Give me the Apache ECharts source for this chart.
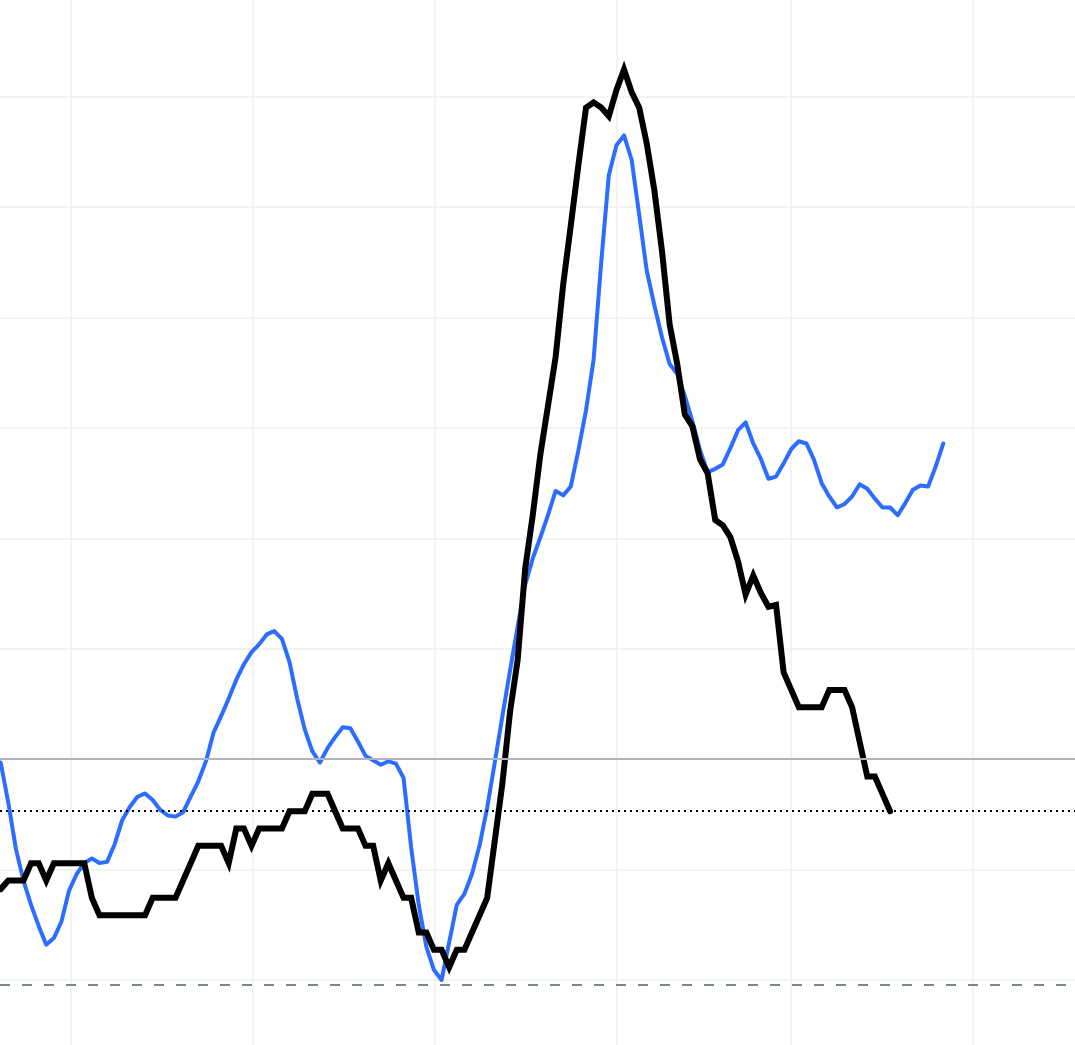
<!DOCTYPE html>
<html>
<head>
<meta charset="utf-8">
<script src="https://cdn.jsdelivr.net/npm/echarts@6/dist/echarts.min.js"></script>
<style>
html,body{margin:0;padding:0;background:#ffffff;}
#chart{width:1075px;height:1045px;}
</style>
</head>
<body>
<div id="chart"></div>
<script>
// Monthly series (period index 0..124)
const blueValues = [
  1.97,1.61,1.19,0.90,0.68,0.49,0.32,0.38,0.53,0.81,
  0.96,1.06,1.10,1.06,1.07,1.23,1.45,1.57,1.66,1.69,
  1.63,1.54,1.49,1.48,1.52,1.66,1.80,1.98,2.24,2.39,
  2.55,2.72,2.86,2.97,3.04,3.13,3.16,3.09,2.88,2.55,
  2.27,2.07,1.97,2.10,2.20,2.29,2.28,2.16,2.03,1.99,
  1.95,1.98,1.96,1.83,1.20,0.68,0.30,0.09,0.00,0.34,
  0.68,0.78,0.96,1.22,1.56,1.97,2.39,2.80,3.20,3.58,
  3.82,4.01,4.21,4.43,4.39,4.47,4.80,5.16,5.62,6.50,
  7.29,7.56,7.65,7.43,6.93,6.42,6.11,5.82,5.58,5.49,
  5.29,5.06,4.80,4.60,4.63,4.67,4.82,4.98,5.05,4.86,
  4.72,4.54,4.56,4.68,4.81,4.88,4.86,4.71,4.50,4.38,
  4.28,4.31,4.38,4.49,4.45,4.36,4.28,4.28,4.21,4.32,
  4.44,4.48,4.47,4.65,4.86
];
const blackValues = [
  0.55,0.6,0.6,0.6,0.7,0.7,0.6,0.7,0.7,0.7,
  0.7,0.7,0.5,0.4,0.4,0.4,0.4,0.4,0.4,0.4,
  0.5,0.5,0.5,0.5,0.6,0.7,0.8,0.8,0.8,0.8,
  0.7,0.9,0.9,0.8,0.9,0.9,0.9,0.9,1.0,1.0,
  1.0,1.1,1.1,1.1,1.0,0.9,0.9,0.9,0.8,0.8,
  0.6,0.7,0.6,0.5,0.5,0.3,0.3,0.2,0.2,0.1,
  0.2,0.2,0.3,0.4,0.5,0.83,1.16,1.57,1.87,2.40,
  2.71,3.06,3.34,3.62,4.04,4.38,4.73,5.06,5.09,5.06,
  5.01,5.16,5.28,5.15,5.06,4.85,4.58,4.23,3.81,3.58,
  3.29,3.22,3.03,2.95,2.68,2.65,2.58,2.44,2.25,2.36,
  2.26,2.18,2.19,1.80,1.70,1.60,1.60,1.60,1.60,1.70,
  1.70,1.70,1.60,1.40,1.20,1.20,1.10,1.00
];
// x-axis tick (gridline) positions, in period units
const xTickValues = [9.254, 33.195, 57.136, 81.078, 103.966, 127.907];
// reference levels
const blueTargetLevel = 2.0;   // solid grey line (left axis)
const blackLastLevel = 1.0;    // dotted line (right axis)
const blackZeroLevel = 0.0;    // dashed line (right axis)

const blueData = blueValues.map((v, i) => [i, v]);
const blackData = blackValues.map((v, i) => [i, v]);

const chart = echarts.init(document.getElementById('chart'), null, {renderer: 'canvas'});
chart.setOption({
  animation: false,
  backgroundColor: '#ffffff',
  grid: {left: 0, right: 0, top: -13.6, bottom: -45.4, containLabel: false, outerBoundsMode: 'none'},
  xAxis: {
    type: 'value', min: -0.0855, max: 141.324,
    axisLine: {show: false},
    axisTick: {show: false, customValues: xTickValues},
    axisLabel: {show: false, customValues: xTickValues},
    splitLine: {show: true, lineStyle: {color: '#efefef', width: 1.5}}
  },
  yAxis: [
    {
      type: 'value', min: -1, max: 9, interval: 1,
      axisLine: {show: false}, axisTick: {show: false}, axisLabel: {show: false},
      splitLine: {show: true, lineStyle: {color: '#efefef', width: 1.5}}
    },
    {
      type: 'value', min: -0.6111, max: 5.7594,
      axisLine: {show: false}, axisTick: {show: false}, axisLabel: {show: false},
      splitLine: {show: false}
    }
  ],
  series: [
    {
      type: 'line', yAxisIndex: 0, data: [], silent: true,
      markLine: {
        symbol: 'none', silent: true, label: {show: false},
        lineStyle: {color: '#b1b4bd', width: 1.8, type: 'solid'},
        data: [{yAxis: blueTargetLevel}]
      }
    },
    {
      type: 'line', yAxisIndex: 1, data: [], silent: true,
      markLine: {
        symbol: 'none', silent: true, label: {show: false},
        data: [
          {yAxis: blackLastLevel, lineStyle: {color: '#000000', width: 2, type: [2, 4]}},
          {yAxis: blackZeroLevel, lineStyle: {color: '#7b8694', width: 2, type: [10, 12]}}
        ]
      }
    },
    {
      type: 'line', yAxisIndex: 0, data: blueData, showSymbol: false, symbol: 'none',
      lineStyle: {color: '#2c6cff', width: 4, cap: 'round', join: 'round'},
      z: 3
    },
    {
      type: 'line', yAxisIndex: 1, data: blackData, showSymbol: false, symbol: 'none',
      lineStyle: {color: '#000000', width: 6, cap: 'round', join: 'miter'},
      z: 4
    }
  ]
});
</script>
</body>
</html>
